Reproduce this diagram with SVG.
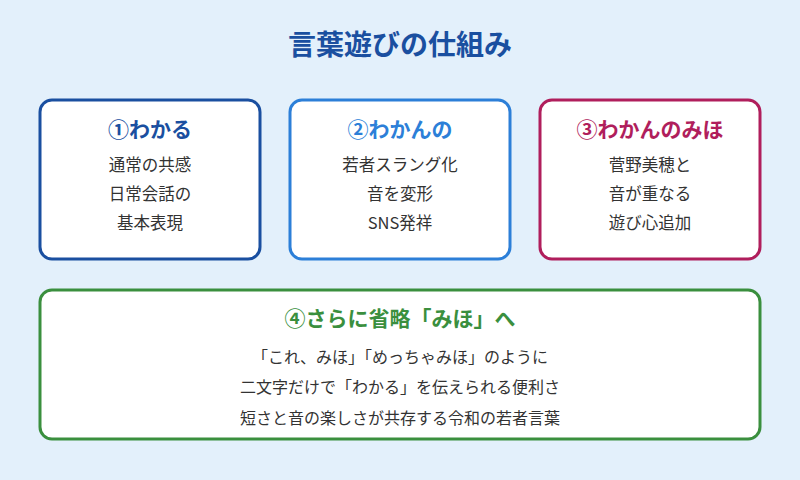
<svg xmlns="http://www.w3.org/2000/svg" width="800" height="480" viewBox="0 0 800 480">
<style>
text{font-family:"Noto Sans CJK JP","Noto Sans",sans-serif;text-anchor:middle}
.box{fill:#fff;stroke-width:3}
.h{font-size:21px;font-weight:bold}
.b{font-size:16.5px;fill:#333}
.c{font-size:16px;fill:#333}
</style>
<rect width="800" height="480" fill="#e3f0fb"/>
<text x="400" y="55" font-size="28" font-weight="bold" fill="#1a4fa0">言葉遊びの仕組み</text>
<g id="n1"><rect class="box" x="40" y="100" width="220" height="159" rx="12" stroke="#1a4fa0"/>
<text class="h" x="150" y="137" fill="#1a4fa0">①わかる</text>
<text class="b" x="150" y="171">通常の共感</text><text class="b" x="150" y="200">日常会話の</text><text class="b" x="150" y="229">基本表現</text></g>
<g id="n2"><rect class="box" x="290" y="100" width="220" height="159" rx="12" stroke="#2c7fd8"/>
<text class="h" x="400" y="137" fill="#2c7fd8">②わかんの</text>
<text class="b" x="400" y="171">若者スラング化</text><text class="b" x="400" y="200">音を変形</text><text class="b" x="400" y="229">SNS発祥</text></g>
<g id="n3"><rect class="box" x="540" y="100" width="220" height="159" rx="12" stroke="#b01e5c"/>
<text class="h" x="650" y="137" fill="#b01e5c">③わかんのみほ</text>
<text class="b" x="650" y="171">菅野美穂と</text><text class="b" x="650" y="200">音が重なる</text><text class="b" x="650" y="229">遊び心追加</text></g>
<g id="n4"><rect class="box" x="40" y="290" width="720" height="149" rx="12" stroke="#3a8f3e"/>
<text class="h" x="400" y="326" fill="#3a8f3e">④さらに省略「みほ」へ</text>
<text class="c" x="400" y="363">「これ、みほ」「めっちゃみほ」のように</text>
<text class="c" x="400" y="393">二文字だけで「わかる」を伝えられる便利さ</text>
<text class="c" x="400" y="424" fill="#777">短さと音の楽しさが共存する令和の若者言葉</text></g>
<g id="connectors"/>
</svg>
